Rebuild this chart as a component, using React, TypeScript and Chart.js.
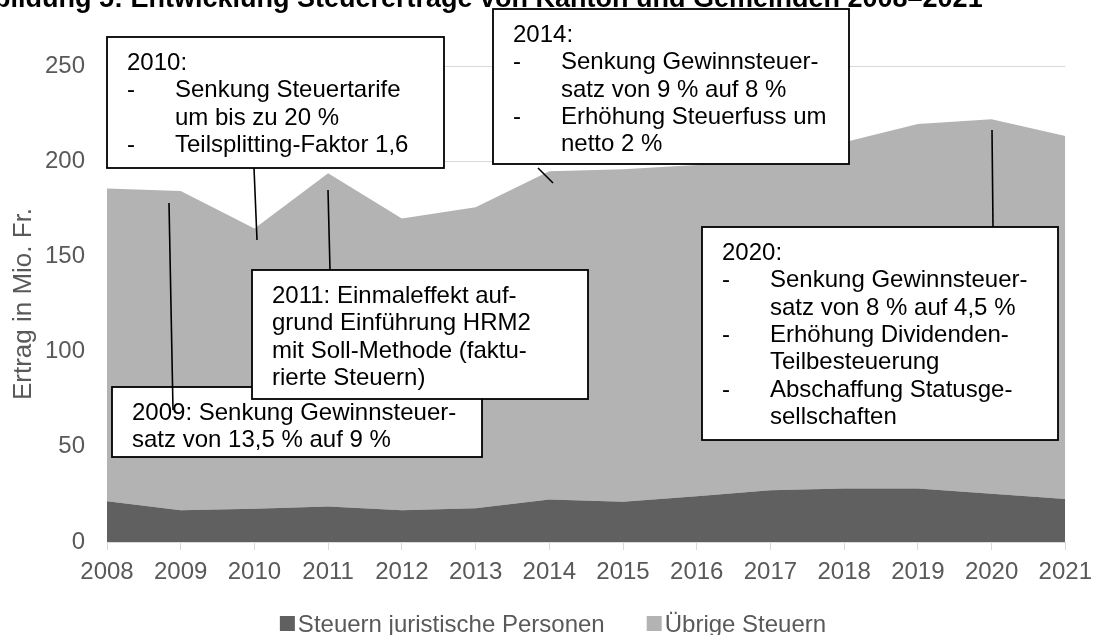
import React, { useEffect, useRef } from 'react';
import { Chart, registerables } from 'chart.js';

Chart.register(...registerables);

// ---------- data ----------
const years = ['2008', '2009', '2010', '2011', '2012', '2013', '2014', '2015', '2016', '2017', '2018', '2019', '2020', '2021'];
const steuernJuristischePersonen = [21.4, 16.7, 17.5, 18.6, 16.7, 17.7, 22.3, 21.2, 24.0, 27.2, 28.1, 28.1, 25.4, 22.6];
const uebrigeSteuern = [164.2, 167.7, 147.2, 175.1, 153.2, 158.1, 172.4, 174.6, 174.0, 176.8, 181.9, 191.4, 196.6, 190.7];
const seriesLabels = ['Steuern juristische Personen', 'Übrige Steuern'];
const yMin = 0;
const yMax = 250;
const yStep = 50;
const titleText = 'Abbildung 5: Entwicklung Steuererträge von Kanton und Gemeinden 2008–2021';
const titleLead = 'Abbildung 5: Entwicklung Steuererträge ';
const yAxisTitle = 'Ertrag in Mio. Fr.';

// annotation texts ("-\t" = bullet + tab, "\t" = tab only)
const note2010 = ['2010:', '-\tSenkung Steuertarife', '\tum bis zu 20 %', '-\tTeilsplitting-Faktor 1,6'];
const note2014 = ['2014:', '-\tSenkung Gewinnsteuer-', '\tsatz von 9 % auf 8 %', '-\tErhöhung Steuerfuss um', '\tnetto 2 %'];
const note2020 = ['2020:', '-\tSenkung Gewinnsteuer-', '\tsatz von 8 % auf 4,5 %', '-\tErhöhung Dividenden-', '\tTeilbesteuerung', '-\tAbschaffung Statusge-', '\tsellschaften'];
const note2009 = ['2009: Senkung Gewinnsteuer-', 'satz von 13,5 % auf 9 %'];
const note2011 = ['2011: Einmaleffekt auf-', 'grund Einführung HRM2', 'mit Soll-Methode (faktu-', 'rierte Steuern)'];

// ---------- layout / style ----------
const FAMILY = '"Liberation Sans", Arial, Helvetica, sans-serif';
const W = 1100;
const H = 635;
const DARK = '#606060';
const LIGHT = '#b3b3b3';
const GRID = '#d9d9d9';
const LABEL = '#595959';
const FS = 24;

type Callout = { lines: string[]; box: [number, number, number, number]; pointer: [number, number, number, number] };
const callouts: Callout[] = [
  { lines: note2010, box: [107, 37, 444, 168], pointer: [254, 168, 257, 240] },
  { lines: note2014, box: [493, 9, 849, 164], pointer: [538, 168, 553, 183] },
  { lines: note2020, box: [702, 227, 1058, 440], pointer: [992, 130, 993, 227] },
  { lines: note2009, box: [112, 387, 482, 457], pointer: [169, 203, 173, 410] },
  { lines: note2011, box: [252, 270, 588, 399], pointer: [328, 190, 330, 270] },
];

const overlayPlugin = {
  id: 'overlay',
  afterDraw(chart: any) {
    const ctx = chart.ctx as CanvasRenderingContext2D;
    ctx.save();

    // title (clipped at top like the reference)
    ctx.font = `bold 27px ${FAMILY}`;
    ctx.fillStyle = '#000';
    ctx.textAlign = 'left';
    ctx.textBaseline = 'alphabetic';
    const lead = ctx.measureText(titleLead).width;
    ctx.fillText(titleText, 480 - lead, 6.5);

    // callout boxes
    ctx.font = `${FS}px ${FAMILY}`;
    for (const c of callouts) {
      const [x0, y0, x1, y1] = c.box;
      ctx.fillStyle = '#fff';
      ctx.fillRect(x0, y0, x1 - x0, y1 - y0);
      ctx.strokeStyle = '#000';
      ctx.lineWidth = 1.8;
      ctx.strokeRect(x0, y0, x1 - x0, y1 - y0);
      ctx.fillStyle = '#000';
      const tx = x0 + 20;
      c.lines.forEach((ln, i) => {
        const by = y0 + 33 + i * 27.3;
        if (ln.startsWith('-\t')) {
          ctx.fillText('-', tx, by);
          ctx.fillText(ln.slice(2), tx + 48, by);
        } else if (ln.startsWith('\t')) {
          ctx.fillText(ln.slice(1), tx + 48, by);
        } else {
          ctx.fillText(ln, tx, by);
        }
      });
    }
    // pointers
    ctx.strokeStyle = '#000';
    ctx.lineWidth = 1.6;
    for (const c of callouts) {
      const [ax, ay, bx, by] = c.pointer;
      ctx.beginPath();
      ctx.moveTo(ax, ay);
      ctx.lineTo(bx, by);
      ctx.stroke();
    }

    // legend
    const sq = 15;
    const gap = 3;
    const spacer = 42;
    ctx.font = `${FS}px ${FAMILY}`;
    const w0 = ctx.measureText(seriesLabels[0]).width;
    const w1 = ctx.measureText(seriesLabels[1]).width;
    const total = sq + gap + w0 + spacer + sq + gap + w1;
    let lx = 553 - total / 2;
    const base = 632;
    const cols = [DARK, LIGHT];
    const ws = [w0, w1];
    for (let i = 0; i < 2; i++) {
      ctx.fillStyle = cols[i];
      ctx.fillRect(lx, base - 16, sq, sq);
      ctx.fillStyle = LABEL;
      ctx.fillText(seriesLabels[i], lx + sq + gap, base);
      lx += sq + gap + ws[i] + spacer;
    }
    ctx.restore();
  },
};

export default function App() {
  const ref = useRef<HTMLCanvasElement | null>(null);
  useEffect(() => {
    if (!ref.current) return;
    const chart = new Chart(ref.current, {
      type: 'line',
      data: {
        labels: years,
        datasets: [
          {
            label: seriesLabels[0],
            data: steuernJuristischePersonen,
            backgroundColor: DARK,
            borderColor: DARK,
            borderWidth: 0,
            pointRadius: 0,
            fill: 'origin',
            tension: 0,
          },
          {
            label: seriesLabels[1],
            data: uebrigeSteuern,
            backgroundColor: LIGHT,
            borderColor: LIGHT,
            borderWidth: 0,
            pointRadius: 0,
            fill: '-1',
            tension: 0,
          },
        ],
      },
      options: {
        responsive: false,
        animation: false,
        devicePixelRatio: 1,
        layout: { padding: { top: 66, right: 30, bottom: 0, left: 0 } },
        plugins: { legend: { display: false }, tooltip: { enabled: false }, title: { display: false } },
        scales: {
          x: {
            type: 'category',
            offset: false,
            grid: { display: true, drawOnChartArea: false, drawTicks: true, tickLength: 8, color: GRID, lineWidth: 1 },
            border: { display: true, color: GRID, width: 1 },
            ticks: { color: LABEL, font: { size: FS, family: FAMILY }, padding: 8, maxRotation: 0, autoSkip: false },
            afterFit: (s: any) => {
              s.height = H - 542;
            },
          },
          y: {
            stacked: true,
            min: yMin,
            max: yMax,
            ticks: { stepSize: yStep, color: LABEL, font: { size: FS, family: FAMILY }, padding: 22 },
            grid: { color: GRID, drawTicks: false, lineWidth: 1 },
            border: { display: false },
            title: { display: true, text: yAxisTitle, color: LABEL, font: { size: 26, family: FAMILY }, padding: { top: 8, bottom: 0 } },
            afterFit: (s: any) => {
              s.width = 107;
            },
          },
        },
      },
      plugins: [overlayPlugin],
    });
    return () => chart.destroy();
  }, []);
  return (
    <div style={{ position: 'absolute', left: 0, top: 0, width: W, height: H, background: '#fff' }}>
      <canvas ref={ref} width={W} height={H} style={{ display: 'block' }} />
    </div>
  );
}
